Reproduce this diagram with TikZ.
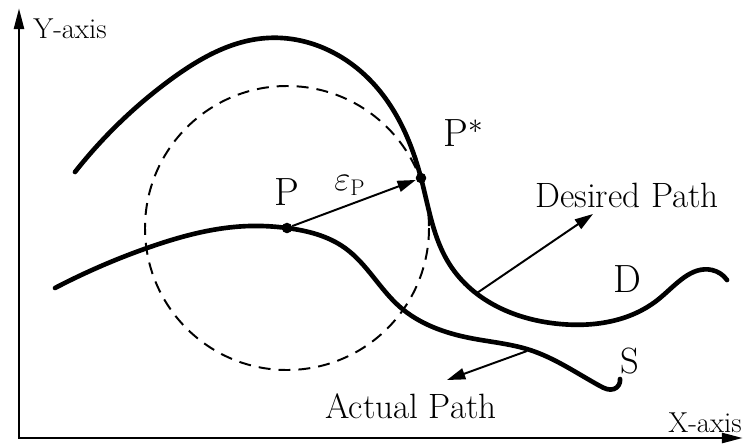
\documentclass[tikz,border=0pt]{standalone}
\usepackage{fontspec}
\usepackage{tikz}
\usetikzlibrary{arrows.meta,hobby}

\begin{document}
\begin{tikzpicture}[x=0.025cm, y=-0.025cm, use Hobby shortcut,
  axis/.style={line width=2.1pt, {Triangle[length=15pt,width=7pt]}-{Triangle[length=15pt,width=7pt]}},
  trace/.style={line width=3.3pt, line cap=round, line join=round},
  ptr/.style={line width=1.4pt, -{Triangle[length=13pt,width=8pt]}},
  ring/.style={line width=1.4pt, dash pattern=on 8.5pt off 5.7pt},
  dot/.style={circle, fill=black, inner sep=0pt, minimum size=7.5pt},
  axlbl/.style={anchor=base west, inner sep=0pt, font=\fontsize{20.5}{23}\selectfont},
  lbl/.style={anchor=base west, inner sep=0pt, font=\fontsize{25}{28}\selectfont},
  big/.style={anchor=base west, inner sep=0pt, font=\fontsize{28}{31}\selectfont}]
\useasboundingbox (0,0) rectangle (746,443);
% axes
\coordinate (ytip) at (19,8);
\coordinate (xtip) at (743,438);
\draw[axis] (ytip) |- (xtip);
\node[axlbl] (ylbl) at (33,38) {Y-axis};
\node[axlbl] (xlbl) at (668,432) {X-axis};
% points
\node[dot] (P) at (287,228) {};
\node[dot] (Ps) at (421,178) {};
% tolerance circle
\draw[ring] (P) circle[radius=142];
% desired path D
\draw[trace] (75,172) .. (170,80) .. (267,38) .. (370,80) .. (421,178) .. (450,265) .. (560,324) .. (660,298) .. (712,270) .. (727,280);
% actual path S
\draw[trace] (55,288) .. (150,247) .. (250,226) .. (287,228) .. (345,248) .. (400,307) .. (470,338) .. (530,350) .. (600,386) .. (614,389) .. (620,379);
% error vector
\draw[ptr] (P) -- (Ps);
\node[anchor=base west, inner sep=0pt, font=\fontsize{23}{25}\selectfont] (eps) at (334,190) {$\varepsilon_{\mathrm{P}}$};
\node[big] (Plbl) at (274,205) {P};
\node[big] (Pslbl) at (443,146) {P$^{*}$};
% path labels
\coordinate (dfoot) at (477,293);
\coordinate (dtip) at (593,214);
\draw[ptr] (dfoot) -- (dtip);
\node[lbl] (dlbl) at (535,207) {Desired Path};
\coordinate (afoot) at (527,351);
\coordinate (atip) at (447,380);
\draw[ptr] (afoot) -- (atip);
\node[lbl] (albl) at (325,418) {Actual Path};
\node[big] (D) at (613,292) {D};
\node[big, font=\fontsize{26}{29}\selectfont] (S) at (620,373) {S};
\end{tikzpicture}
\end{document}
